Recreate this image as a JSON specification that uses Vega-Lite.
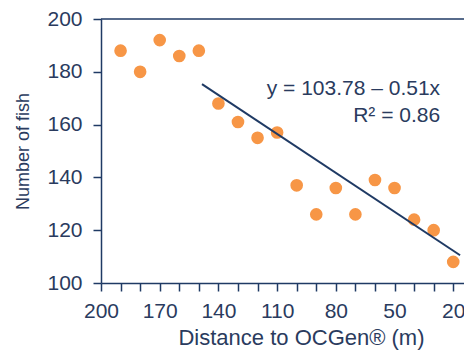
{
  "$schema": "https://vega.github.io/schema/vega-lite/v6.json",
  "width": 363,
  "height": 264,
  "autosize": "none",
  "padding": {"left": 101, "top": 19, "right": 0, "bottom": 69},
  "config": {
    "view": {"stroke": null},
    "font": "Liberation Sans",
    "axis": {
      "domainColor": "#1f3a64",
      "tickColor": "#1f3a64",
      "labelColor": "#2a3b5e",
      "titleColor": "#2a3b5e",
      "labelFont": "Liberation Sans",
      "titleFont": "Liberation Sans",
      "labelFontSize": 21,
      "titleFontSize": 21,
      "titleFontWeight": "normal",
      "grid": false,
      "domainWidth": 1.5,
      "tickWidth": 1.5,
      "tickSize": 8
    }
  },
  "datasets": {
    "fish": [
      {"d": 190, "n": 188}, {"d": 180, "n": 180}, {"d": 170, "n": 192},
      {"d": 160, "n": 186}, {"d": 150, "n": 188}, {"d": 140, "n": 168},
      {"d": 130, "n": 161}, {"d": 120, "n": 155}, {"d": 110, "n": 157},
      {"d": 100, "n": 137}, {"d": 90, "n": 126}, {"d": 80, "n": 136},
      {"d": 70, "n": 126}, {"d": 60, "n": 139}, {"d": 50, "n": 136},
      {"d": 40, "n": 124}, {"d": 30, "n": 120}, {"d": 20, "n": 108}
    ],
    "fit": [{"d": 148.4, "n": 175.3}, {"d": 16.5, "n": 110.5}],
    "labels": [
      {"d": 26.7, "n": 173.5, "t": "y = 103.78 – 0.51x"},
      {"d": 26.7, "n": 163.3, "t": "R² = 0.86"}
    ]
  },
  "layer": [
    {
      "data": {"name": "fish"},
      "mark": {"type": "circle", "size": 160, "color": "#f79646", "opacity": 1},
      "encoding": {
        "x": {
          "field": "d", "type": "quantitative",
          "scale": {"domain": [200, 14.5], "nice": false, "zero": false},
          "axis": {
            "title": "Distance to OCGen® (m)",
            "titleFontSize": 22,
            "titleX": 200,
            "titleAnchor": "middle",
            "titleAlign": "center",
            "values": [200, 190, 180, 170, 160, 150, 140, 130, 120, 110, 100, 90, 80, 70, 60, 50, 40, 30, 20],
            "tickCount": 40,
            "labelExpr": "(200 - datum.value) % 30 == 0 ? datum.label : ''",
            "labelOverlap": false,
            "labelBound": false,
            "labelFlush": false,
            "labelPadding": 9,
            "titlePadding": 6
          }
        },
        "y": {
          "field": "n", "type": "quantitative",
          "scale": {"domain": [100, 200], "nice": false, "zero": false},
          "axis": {
            "title": "Number of fish",
            "titleFontSize": 18,
            "values": [100, 120, 140, 160, 180, 200],
            "labelOverlap": false,
            "labelPadding": 11,
            "titlePadding": 14
          }
        }
      }
    },
    {
      "data": {"name": "fit"},
      "mark": {"type": "line", "color": "#1f3a64", "strokeWidth": 2},
      "encoding": {
        "x": {"field": "d", "type": "quantitative"},
        "y": {"field": "n", "type": "quantitative"}
      }
    },
    {
      "data": {"values": [{"top": 200}]},
      "mark": {"type": "rule", "color": "#1f3a64", "strokeWidth": 1.5},
      "encoding": {"y": {"field": "top", "type": "quantitative"}}
    },
    {
      "data": {"name": "labels"},
      "mark": {"type": "text", "align": "right", "baseline": "middle", "fontSize": 21, "color": "#2a3b5e", "font": "Liberation Sans"},
      "encoding": {
        "x": {"field": "d", "type": "quantitative"},
        "y": {"field": "n", "type": "quantitative"},
        "text": {"field": "t"}
      }
    }
  ]
}
